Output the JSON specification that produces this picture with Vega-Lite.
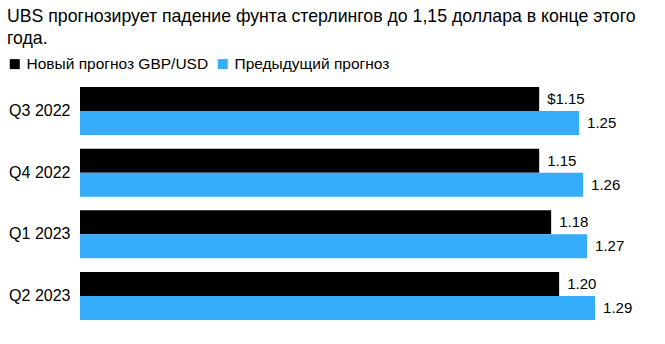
{
  "$schema": "https://vega.github.io/schema/vega-lite/v6.json",
  "width": 559,
  "height": 233,
  "autosize": "none",
  "padding": {"left": 80, "top": 87, "right": 0, "bottom": 0},
  "background": "white",
  "config": {
    "font": "Liberation Sans",
    "view": {"stroke": null}
  },
  "title": {
    "text": ["UBS прогнозирует падение фунта стерлингов до 1,15 доллара в конце этого", "года."],
    "anchor": "start",
    "frame": "group",
    "dx": -73,
    "dy": 2,
    "fontSize": 17.7,
    "fontWeight": "normal",
    "color": "#000000",
    "lineHeight": 22,
    "offset": 10,
    "limit": 0
  },
  "data": {
    "values": [
      {"quarter": "Q3 2022", "series": "Новый прогноз GBP/USD", "value": 1.15, "label": "$1.15"},
      {"quarter": "Q3 2022", "series": "Предыдущий прогноз", "value": 1.25, "label": "1.25"},
      {"quarter": "Q4 2022", "series": "Новый прогноз GBP/USD", "value": 1.15, "label": "1.15"},
      {"quarter": "Q4 2022", "series": "Предыдущий прогноз", "value": 1.26, "label": "1.26"},
      {"quarter": "Q1 2023", "series": "Новый прогноз GBP/USD", "value": 1.18, "label": "1.18"},
      {"quarter": "Q1 2023", "series": "Предыдущий прогноз", "value": 1.27, "label": "1.27"},
      {"quarter": "Q2 2023", "series": "Новый прогноз GBP/USD", "value": 1.20, "label": "1.20"},
      {"quarter": "Q2 2023", "series": "Предыдущий прогноз", "value": 1.29, "label": "1.29"}
    ]
  },
  "encoding": {
    "y": {
      "field": "quarter",
      "type": "nominal",
      "sort": ["Q3 2022", "Q4 2022", "Q1 2023", "Q2 2023"],
      "scale": {"paddingInner": 0.22, "paddingOuter": 0},
      "axis": {
        "title": null,
        "domain": false,
        "ticks": false,
        "labelPadding": 10,
        "labelFontSize": 16,
        "labelColor": "#000000"
      }
    },
    "yOffset": {
      "field": "series",
      "type": "nominal",
      "sort": ["Новый прогноз GBP/USD", "Предыдущий прогноз"],
      "scale": {"paddingInner": 0, "paddingOuter": 0}
    },
    "x": {
      "field": "value",
      "type": "quantitative",
      "scale": {"domain": [0, 1.4], "nice": false, "zero": true},
      "axis": null
    }
  },
  "layer": [
    {
      "mark": {"type": "bar"},
      "encoding": {
        "color": {
          "field": "series",
          "type": "nominal",
          "scale": {
            "domain": ["Новый прогноз GBP/USD", "Предыдущий прогноз"],
            "range": ["#000000", "#36adfb"]
          },
          "legend": {
            "title": null,
            "orient": "none",
            "legendX": -73,
            "legendY": -31,
            "direction": "horizontal",
            "symbolType": "square",
            "symbolSize": 100,
            "symbolStrokeWidth": 0,
            "labelFontSize": 15.5,
            "labelLimit": 0,
            "labelColor": "#000000",
            "labelOffset": 4,
            "columnPadding": 6
          }
        }
      }
    },
    {
      "mark": {"type": "text", "align": "left", "baseline": "middle", "dx": 8, "fontSize": 15, "color": "#000000"},
      "encoding": {
        "text": {"field": "label"}
      }
    }
  ]
}
